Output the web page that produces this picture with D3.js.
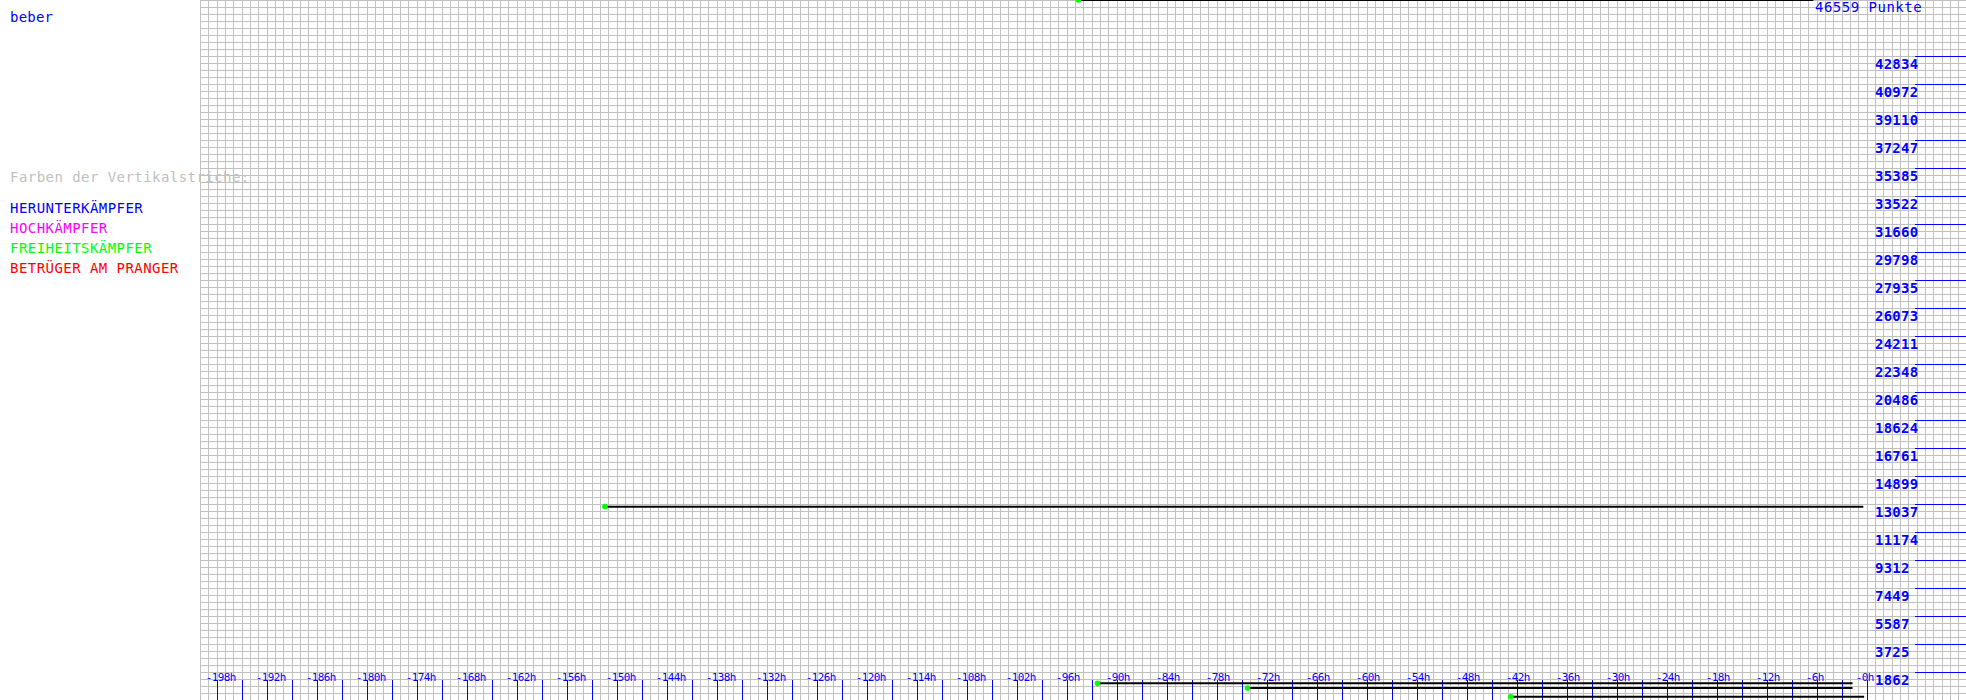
<!DOCTYPE html>
<html>
<head>
<meta charset="utf-8">
<script src="https://cdn.jsdelivr.net/npm/d3@7"></script>
<style>
  html, body { margin: 0; padding: 0; background: #fff; }
  svg { display: block; }
  text { font-family: "DejaVu Sans Mono", monospace; }
</style>
</head>
<body>
<svg id="chart" width="1966" height="700"></svg>
<script>
// ---- data ----
const playerName = "beber";
const maxPoints = 46559;
const legendTitle = "Farben der Vertikalstriche:";
const legendLabels = ["HERUNTERKÄMPFER", "HOCHKÄMPFER", "FREIHEITSKÄMPFER", "BETRÜGER AM PRANGER"];
const legendColors = ["#0000ff", "#ff00ff", "#00ff00", "#ff0000"];

// y-axis tick values (points)
const yTickValues = [1862, 3725, 5587, 7449, 9312, 11174, 13037, 14899, 16761, 18624, 20486,
  22348, 24211, 26073, 27935, 29798, 31660, 33522, 35385, 37247, 39110, 40972, 42834];

// x-axis labelled hours and minor tick hours
const xLabelHours = [-198, -192, -186, -180, -174, -168, -162, -156, -150, -144, -138, -132, -126,
  -120, -114, -108, -102, -96, -90, -84, -78, -72, -66, -60, -54, -48, -42, -36, -30, -24, -18, -12, -6, 0];
const xTickHours = [-198, -195, -192, -189, -186, -183, -180, -177, -174, -171, -168, -165, -162, -159,
  -156, -153, -150, -147, -144, -141, -138, -135, -132, -129, -126, -123, -120, -117, -114, -111, -108,
  -105, -102, -99, -96, -93, -90, -87, -84, -81, -78, -75, -72, -69, -66, -63, -60, -57, -54, -51, -48,
  -45, -42, -39, -36, -33, -30, -27, -24, -21, -18, -15, -12, -9, -6, -3, 0];

// horizontal segments: start hour, end hour, points
const segStart = [-94.6, -151.4, -92.3, -74.3, -42.7];
const segEnd   = [-6.4, -0.4, -1.7, -1.7, -0.3];
const segValue = [46559, 12860, 1110, 800, 210];

// ---- scales ----
const W = 1966, H = 700;
const x = d3.scaleLinear().domain([-200, 11.92]).range([200, 1966]);
const y = d3.scaleLinear().domain([0, maxPoints]).range([700, 0]);

const svg = d3.select("#chart");

// grid
const grid = svg.append("g").attr("stroke", "#c0c0c0").attr("stroke-width", 1).attr("shape-rendering", "crispEdges");
const gridHours = d3.range(-200, 12, 1);
grid.selectAll("line.v").data(gridHours).join("line")
  .attr("class", "v")
  .attr("x1", d => Math.round(x(d)) + 0.5).attr("x2", d => Math.round(x(d)) + 0.5)
  .attr("y1", 0).attr("y2", H);
const gridVals = d3.range(0, 101).map(k => k * maxPoints / 100);
grid.selectAll("line.h").data(gridVals).join("line")
  .attr("class", "h")
  .attr("x1", 200).attr("x2", W)
  .attr("y1", d => Math.round(y(d)) + 0.5).attr("y2", d => Math.round(y(d)) + 0.5);

// left texts
svg.append("text").attr("x", 10).attr("y", 22).attr("fill", "#0000ff")
  .attr("font-size", 14).attr("letter-spacing", 0.2).text(playerName);
svg.append("text").attr("x", 10).attr("y", 182).attr("fill", "#c0c0c0")
  .attr("font-size", 14).attr("letter-spacing", 0.45).text(legendTitle);
svg.selectAll("text.leg").data(legendLabels).join("text")
  .attr("class", "leg")
  .attr("x", 10).attr("y", (d, i) => 213 + i * 20)
  .attr("fill", (d, i) => legendColors[i])
  .attr("font-size", 14).attr("letter-spacing", 0.45)
  .text(d => d);

// right axis ticks
const yAxisG = svg.append("g");
yAxisG.selectAll("line").data(yTickValues).join("line")
  .attr("x1", 1915).attr("x2", W)
  .attr("y1", d => Math.round(y(d)) + 0.5).attr("y2", d => Math.round(y(d)) + 0.5)
  .attr("stroke", "#0000ff").attr("stroke-width", 1).attr("shape-rendering", "crispEdges");
yAxisG.selectAll("text").data(yTickValues).join("text")
  .attr("x", 1875).attr("y", d => y(d) + 12.8)
  .attr("fill", "#0000ff").attr("font-size", 14).attr("font-weight", "bold").attr("letter-spacing", 0.25)
  .text(d => String(d));
svg.append("text").attr("x", 1815).attr("y", 11.5)
  .attr("fill", "#0000ff").attr("font-size", 14).attr("letter-spacing", 0.5)
  .text(maxPoints + " Punkte");

// bottom axis
const xAxisG = svg.append("g");
xAxisG.selectAll("line").data(xTickHours).join("line")
  .attr("x1", d => Math.round(x(d)) + 0.5).attr("x2", d => Math.round(x(d)) + 0.5)
  .attr("y1", 680).attr("y2", H)
  .attr("stroke", "#0000ff").attr("stroke-width", 1).attr("shape-rendering", "crispEdges");
xAxisG.selectAll("text").data(xLabelHours).join("text")
  .attr("x", d => x(d) - 11).attr("y", 681)
  .attr("fill", "#0000ff").attr("font-size", 11).attr("letter-spacing", -0.6)
  .text(d => "-" + Math.abs(d) + "h");

// segments
const segs = segStart.map((s, i) => ({ s, e: segEnd[i], v: segValue[i] }));
svg.append("g").selectAll("line").data(segs).join("line")
  .attr("x1", d => x(d.s)).attr("x2", d => x(d.e))
  .attr("y1", d => y(d.v)).attr("y2", d => y(d.v))
  .attr("stroke", "#000").attr("stroke-width", 2);
svg.append("g").selectAll("circle").data(segs).join("circle")
  .attr("cx", d => x(d.s)).attr("cy", d => y(d.v)).attr("r", 2.8)
  .attr("fill", "#00ff00");
</script>
</body>
</html>
